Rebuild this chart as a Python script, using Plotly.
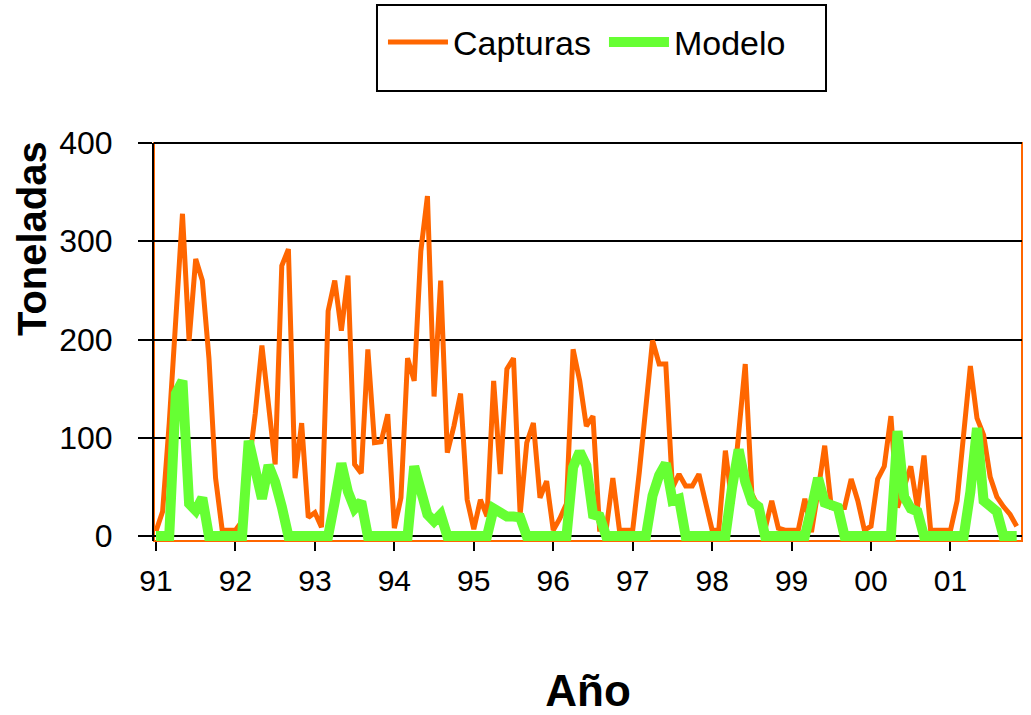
import plotly.graph_objects as go

# ---- data (monthly, Jan 1991 .. Nov 2001) ----
months = list(range(131))

capturas = [
    5, 25, 115, 220, 328, 199, 282, 260, 181, 59, 6, 6,          # 91
    6, 15, 70, 125, 194, 138, 73, 275, 292, 59, 115, 19,        # 92
    24, 9, 229, 260, 209, 265, 73, 64, 190, 95, 96, 124,        # 93
    8, 39, 181, 158, 290, 346, 142, 260, 85, 112, 145, 37,      # 94
    7, 37, 20, 158, 63, 170, 181, 22, 95, 115, 39, 56,          # 95
    6, 18, 33, 190, 158, 112, 122, 7, 7, 59, 6, 6,              # 96
    6, 65, 130, 199, 175, 175, 49, 63, 51, 51, 63, 32,          # 97
    6, 6, 87, 33, 107, 175, 43, 29, 7, 36, 8, 6,                # 98
    6, 6, 38, 4, 46, 92, 29, 29, 29, 58, 36, 6,                 # 99
    10, 58, 71, 122, 29, 50, 71, 29, 82, 6, 6, 6,               # 00
    6, 36, 100, 173, 120, 103, 60, 40, 30, 22, 10,              # 01
]

modelo = [
    0, 0, 0, 145, 158, 33, 26, 39, 0, 0, 0, 0,
    0, 0, 97, 68, 38, 72, 55, 30, 0, 0, 0, 0,
    0, 0, 0, 35, 74, 45, 28, 35, 0, 0, 0, 0,
    0, 0, 0, 71, 41, 22, 15, 22, 0, 0, 0, 0,
    0, 0, 0, 28, 24, 20, 20, 19, 0, 0, 0, 0,
    0, 0, 0, 70, 86, 72, 22, 20, 0, 0, 0, 0,
    0, 0, 0, 41, 62, 74, 36, 38, 0, 0, 0, 0,
    0, 0, 0, 49, 88, 55, 35, 30, 0, 0, 0, 0,
    0, 0, 0, 28, 59, 34, 31, 29, 0, 0, 0, 0,
    0, 0, 0, 0, 107, 40, 28, 25, 0, 0, 0, 0,
    0, 0, 0, 45, 110, 36, 29, 25, 0, 0, 0,
]

year_tick_months = [0, 12, 24, 36, 48, 60, 72, 84, 96, 108, 120]
year_tick_labels = ["91", "92", "93", "94", "95", "96", "97", "98", "99", "00", "01"]
y_ticks = [0, 100, 200, 300, 400]

FONT = "Liberation Sans, Arial, sans-serif"
ORANGE = "#FF6600"
GREEN = "#66FF33"

fig = go.Figure()
fig.add_trace(go.Scatter(x=months, y=capturas, mode="lines", name="Capturas",
                         line=dict(color=ORANGE, width=5)))
fig.add_trace(go.Scatter(x=months, y=modelo, mode="lines", name="Modelo",
                         line=dict(color=GREEN, width=10)))

fig.update_layout(
    width=1031, height=715,
    margin=dict(l=154, r=9, t=143, b=174, autoexpand=False),
    paper_bgcolor="white", plot_bgcolor="white",
    font=dict(family=FONT, color="black"),
    showlegend=True,
    legend=dict(orientation="h", x=0.2638, xanchor="left", y=1.253, yanchor="middle",
                font=dict(size=34, family=FONT, color="black"),
                bgcolor="rgba(0,0,0,0)", borderwidth=0,
                itemwidth=60, entrywidth=146, entrywidthmode="pixels"),
    xaxis=dict(range=[-0.3, 130.8], tickmode="array", tickvals=year_tick_months,
               ticktext=year_tick_labels, ticks="outside", ticklen=9, tickwidth=1.5,
               tickcolor="black", showgrid=False, zeroline=False, showline=False,
               tickfont=dict(size=30, family=FONT, color="black"),
               ticklabelstandoff=4, automargin=False,
               title=dict(text="<b>Año</b>", font=dict(size=44, family=FONT, color="black"),
                          standoff=83)),
    yaxis=dict(range=[-5, 400], tickmode="array", tickvals=y_ticks, ticks="outside",
               ticklen=14, tickwidth=1.5, tickcolor="black",
               showgrid=True, gridcolor="black", gridwidth=1.5,
               zeroline=True, zerolinecolor="black", zerolinewidth=2,
               showline=True, linecolor="black", linewidth=2,
               tickfont=dict(size=32, family=FONT, color="black"),
               ticklabelstandoff=19, automargin=False),
    annotations=[
        dict(text="<b>Toneladas</b>", xref="paper", yref="paper", x=-0.1406, y=0.761,
             xanchor="center", yanchor="middle", textangle=-90, showarrow=False,
             font=dict(size=40, family=FONT, color="black")),
    ],
    shapes=[
        dict(type="rect", xref="paper", yref="paper", x0=0, x1=1, y0=0, y1=1,
             line=dict(color=ORANGE, width=2), layer="below"),
        dict(type="line", xref="paper", yref="paper", x0=0, x1=1, y0=1, y1=1,
             line=dict(color="black", width=2), layer="above"),
        dict(type="rect", xref="paper", yref="paper", x0=0.2569, x1=0.7742,
             y0=1.1307, y1=1.3467, line=dict(color="black", width=2),
             fillcolor="white", layer="below"),
    ],
)

fig.write_html("out.html", config={"displayModeBar": False},
               post_script="document.body.style.margin='0';document.body.style.overflow='hidden';")
